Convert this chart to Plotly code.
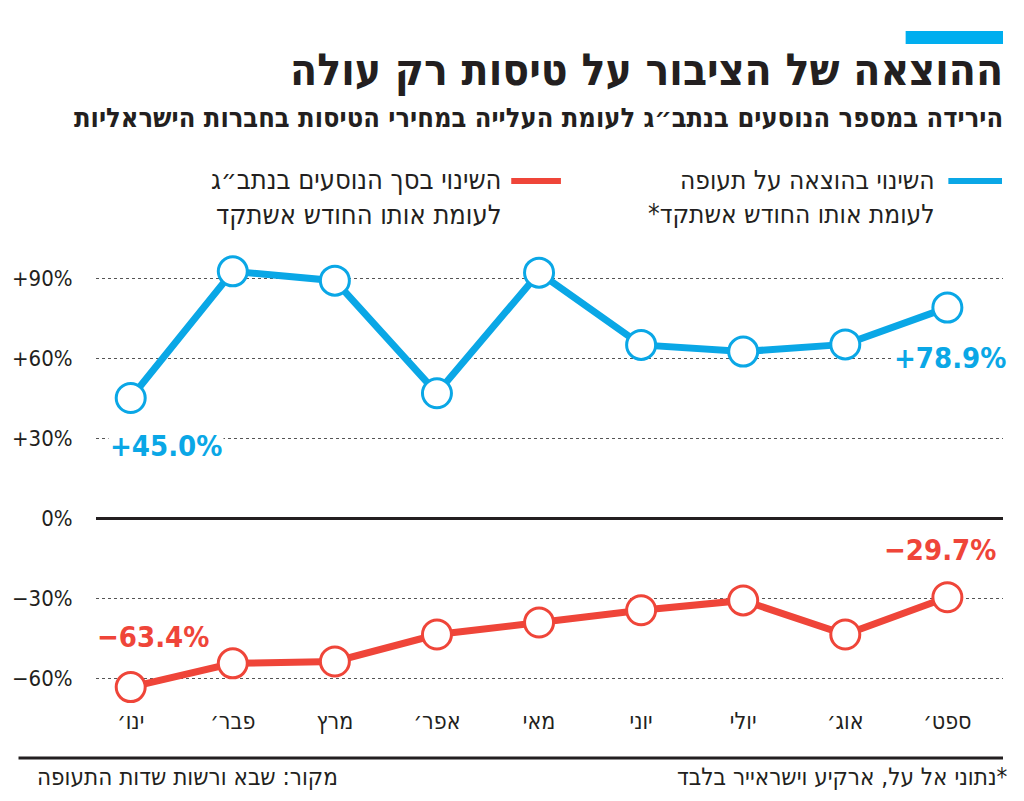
import plotly.graph_objects as go

# ---- data ----
months = ["ינו׳", "פבר׳", "מרץ", "אפר׳", "מאי", "יוני", "יולי", "אוג׳", "ספט׳"]
spend_change = [45.0, 92.5, 89.0, 46.8, 92.0, 64.9, 62.4, 65.1, 78.9]
passengers_change = [-63.4, -54.5, -53.8, -43.7, -39.2, -34.6, -30.9, -43.7, -29.7]
y_tickvals = [90, 60, 30, 0, -30, -60]
y_ticktext = ["+90%", "+60%", "+30%", "0%", "−30%", "−60%"]

title = "ההוצאה של הציבור על טיסות רק עולה"
subtitle = "הירידה במספר הנוסעים בנתב״ג לעומת העלייה במחירי הטיסות בחברות הישראליות"
legend_blue = "השינוי בהוצאה על תעופה<br>לעומת אותו החודש אשתקד*\u200f"
legend_red = "השינוי בסך הנוסעים בנתב״ג<br>לעומת אותו החודש אשתקד"
source = "מקור: שבא ורשות שדות התעופה"
footnote = "\u200f*נתוני אל על, ארקיע וישראייר בלבד"

BLUE = "#0aa7e6"
RED = "#ef4539"
DARK = "#231f20"
FONT = "DejaVu Sans Condensed, Liberation Sans Narrow, DejaVu Sans, sans-serif"

W, H = 1024, 801
L, R, T, B = 90, 21, 230, 96
PW, PH = W - L - R, H - T - B


def px(x):
    return (x - L) / PW


def py(y):
    return (H - B - y) / PH


fig = go.Figure()
fig.add_trace(go.Scatter(
    x=months, y=spend_change, mode="lines+markers",
    line=dict(color=BLUE, width=7),
    marker=dict(symbol="circle", size=29, color="white", line=dict(color=BLUE, width=3)),
    cliponaxis=False, hoverinfo="skip", showlegend=False))
fig.add_trace(go.Scatter(
    x=months, y=passengers_change, mode="lines+markers",
    line=dict(color=RED, width=7),
    marker=dict(symbol="circle", size=29, color="white", line=dict(color=RED, width=3)),
    cliponaxis=False, hoverinfo="skip", showlegend=False))


def fmt(v):
    return ("+" if v > 0 else "−") + f"{abs(v):.1f}%"


label_font_b = dict(family=FONT, size=29, color=BLUE)
label_font_r = dict(family=FONT, size=29, color=RED)
ann = []
ann.append(dict(x=months[0], y=spend_change[0], xref="x", yref="y", text="<b>" + fmt(spend_change[0]) + "</b>",
                showarrow=False, xshift=35, yshift=-48, font=label_font_b, bgcolor="white"))
ann.append(dict(x=months[-1], y=spend_change[-1], xref="x", yref="y", text="<b>" + fmt(spend_change[-1]) + "</b>",
                showarrow=False, xshift=3, yshift=-50, font=label_font_b, bgcolor="white"))
ann.append(dict(x=months[0], y=passengers_change[0], xref="x", yref="y", text="<b>" + fmt(passengers_change[0]) + "</b>",
                showarrow=False, xshift=22, yshift=50, font=label_font_r, bgcolor="white"))
ann.append(dict(x=months[-1], y=passengers_change[-1], xref="x", yref="y", text="<b>" + fmt(passengers_change[-1]) + "</b>",
                showarrow=False, xshift=-7, yshift=47, font=label_font_r, bgcolor="white"))

# titles
ann.append(dict(x=px(1005), y=py(70), xref="paper", yref="paper", xanchor="right", yanchor="middle",
                text="<b>" + title + "</b>", showarrow=False, font=dict(family=FONT, size=44, color=DARK)))
ann.append(dict(x=px(1005), y=py(117), xref="paper", yref="paper", xanchor="right", yanchor="middle",
                text="<b>" + subtitle + "</b>", showarrow=False, font=dict(family=FONT, size=27, color=DARK)))
# legend
ann.append(dict(x=px(937), y=py(197), xref="paper", yref="paper", xanchor="right", yanchor="middle",
                text=legend_blue, align="right", showarrow=False, font=dict(family=FONT, size=26, color=DARK)))
ann.append(dict(x=px(500), y=py(197), xref="paper", yref="paper", xanchor="right", yanchor="middle",
                text=legend_red, align="right", showarrow=False, font=dict(family=FONT, size=27, color=DARK)))
# footer
ann.append(dict(x=px(336), y=py(777), xref="paper", yref="paper", xanchor="right", yanchor="middle",
                text=source, showarrow=False, font=dict(family=FONT, size=24, color=DARK)))
ann.append(dict(x=px(1010), y=py(777), xref="paper", yref="paper", xanchor="right", yanchor="middle",
                text=footnote, showarrow=False, font=dict(family=FONT, size=24, color=DARK)))

shapes = [
    dict(type="rect", xref="paper", yref="paper", x0=px(905), x1=px(1003), y0=py(44), y1=py(31),
         fillcolor="#00aeef", line=dict(width=0)),
    dict(type="line", xref="paper", yref="paper", x0=px(948), x1=px(1002), y0=py(181), y1=py(181),
         line=dict(color=BLUE, width=6)),
    dict(type="line", xref="paper", yref="paper", x0=px(508), x1=px(558), y0=py(181), y1=py(181),
         line=dict(color=RED, width=6)),
    dict(type="line", xref="paper", yref="paper", x0=px(12), x1=px(1003), y0=py(758), y1=py(758),
         line=dict(color=DARK, width=3)),
]

zero_px = 518
ppu = 80 / 30
y_top = (zero_px - T) / ppu
y_bot = -((H - B) - zero_px) / ppu

fig.update_layout(
    width=W, height=H,
    margin=dict(l=L, r=R, t=T, b=B),
    paper_bgcolor="white", plot_bgcolor="white",
    annotations=ann, shapes=shapes,
    xaxis=dict(type="category", range=[-0.34, 8.545], showgrid=False, zeroline=False, showline=False,
               ticks="", tickfont=dict(family=FONT, size=23, color=DARK)),
    yaxis=dict(range=[y_bot, y_top], tickvals=y_tickvals, ticktext=y_ticktext,
               showgrid=True, gridcolor="#555555", gridwidth=1, griddash="dot",
               zeroline=True, zerolinecolor=DARK, zerolinewidth=3, showline=False,
               ticks="outside", ticklen=18, tickcolor="rgba(0,0,0,0)",
               tickfont=dict(family=FONT, size=22, color=DARK)),
)

fig.write_html("out.html", config={"displayModeBar": False},
               post_script="document.body.style.margin='0';")
